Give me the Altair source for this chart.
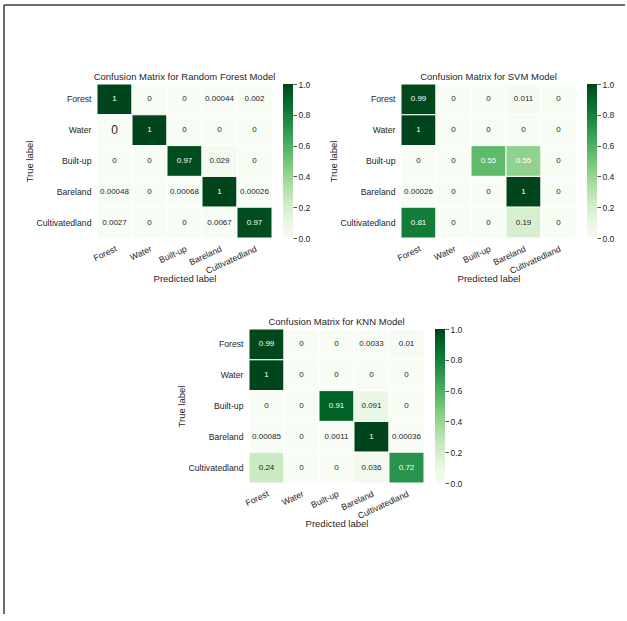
import altair as alt
import pandas as pd

classes = ["Forest", "Water", "Built-up", "Bareland", "Cultivatedland"]

rf_values = [
    [1.0, 0, 0, 0.00044, 0.002],
    [0, 1.0, 0, 0, 0],
    [0, 0, 0.97, 0.029, 0],
    [0.00048, 0, 0.00068, 1.0, 0.00026],
    [0.0027, 0, 0, 0.0067, 0.97],
]
rf_labels = [
    ["1", "0", "0", "0.00044", "0.002"],
    ["0", "1", "0", "0", "0"],
    ["0", "0", "0.97", "0.029", "0"],
    ["0.00048", "0", "0.00068", "1", "0.00026"],
    ["0.0027", "0", "0", "0.0067", "0.97"],
]
svm_values = [
    [0.99, 0, 0, 0.011, 0],
    [1.0, 0, 0, 0, 0],
    [0, 0, 0.55, 0.42, 0],
    [0.00026, 0, 0, 1.0, 0],
    [0.81, 0, 0, 0.19, 0],
]
svm_labels = [
    ["0.99", "0", "0", "0.011", "0"],
    ["1", "0", "0", "0", "0"],
    ["0", "0", "0.55", "0.55", "0"],
    ["0.00026", "0", "0", "1", "0"],
    ["0.81", "0", "0", "0.19", "0"],
]
knn_values = [
    [0.99, 0, 0, 0.0033, 0.01],
    [1.0, 0, 0, 0, 0],
    [0, 0, 0.91, 0.091, 0],
    [0.00085, 0, 0.0011, 1.0, 0.00036],
    [0.24, 0, 0, 0.036, 0.72],
]
knn_labels = [
    ["0.99", "0", "0", "0.0033", "0.01"],
    ["1", "0", "0", "0", "0"],
    ["0", "0", "0.91", "0.091", "0"],
    ["0.00085", "0", "0.0011", "1", "0.00036"],
    ["0.24", "0", "0", "0.036", "0.72"],
]
# annotation drawn larger in the Random Forest matrix (true, predicted)
rf_big_annotations = [("Water", "Forest")]

cbar_ticks = [0.0, 0.2, 0.4, 0.6, 0.8, 1.0]
greens = ["#f7fcf5", "#e5f5e0", "#c7e9c0", "#a1d99b", "#74c476",
          "#41ab5d", "#238b45", "#006d2c", "#00441b"]
green_pos = [i / 8 for i in range(9)]

FONT = "Liberation Sans"
TXT = "#262626"
HW, HH = 175, 154
SLOT = 152       # horizontal step between the three panels
KNN_DROP = 245   # vertical offset of the lower matrix


def make_df(values, labels, big=()):
    rows = []
    for i, t in enumerate(classes):
        for j, p in enumerate(classes):
            rows.append({
                "true": t, "pred": p, "value": values[i][j],
                "label": labels[i][j],
                "big": 1 if (t, p) in big else 0,
            })
    return pd.DataFrame(rows)


def panel(values, labels, title, big=(), yoff=0, frame=False):
    df = make_df(values, labels, big)
    base = alt.Chart(df)
    xenc = alt.X("pred:N", sort=classes,
                 scale=alt.Scale(range=[0, HW]),
                 axis=alt.Axis(title="Predicted label", labelAngle=-25,
                               labelAlign="right", labelBaseline="top",
                               ticks=False, domain=False, labelPadding=6,
                               labelFontSize=8.7, labelColor=TXT,
                               titleFontSize=9.5, titleFontWeight="normal",
                               titleColor=TXT, titleX=HW / 2, titleY=40,
                               titleAlign="center", titleBaseline="middle"))
    yenc = alt.Y("true:N", sort=classes,
                 scale=alt.Scale(range=[yoff, yoff + HH]),
                 axis=alt.Axis(title="True label", ticks=False, domain=False,
                               labelPadding=6, labelFontSize=8.7,
                               labelColor=TXT, titleFontSize=9.5,
                               titleFontWeight="normal", titleColor=TXT,
                               titleX=-68, titleY=yoff + HH / 2,
                               titleBaseline="middle"))
    rect = base.mark_rect(stroke="white", strokeWidth=1).encode(
        x=xenc, y=yenc,
        fill=alt.Fill("value:Q",
                      scale=alt.Scale(domain=green_pos, range=greens,
                                      interpolate="rgb"),
                      legend=None),
    )
    text = base.mark_text(font=FONT, baseline="middle", align="center").encode(
        x=xenc, y=yenc,
        text="label:N",
        color=alt.condition(alt.datum.value > 0.4, alt.value("white"),
                            alt.value(TXT)),
        size=alt.condition(alt.datum.big > 0, alt.value(12), alt.value(8)),
    )
    ttl = alt.Chart(pd.DataFrame({"t": [title]})).mark_text(
        font=FONT, fontSize=9.5, color=TXT, baseline="bottom", align="center"
    ).encode(x=alt.value(HW / 2), y=alt.value(yoff - 2), text="t:N")

    cdf = pd.DataFrame({"lo": [cbar_ticks[0]], "hi": [cbar_ticks[-1]]})
    grad = {"gradient": "linear", "x1": 0, "y1": 1, "x2": 0, "y2": 0,
            "stops": [{"offset": o, "color": c} for o, c in zip(green_pos, greens)]}
    cbar = alt.Chart(cdf).mark_rect(fill=grad).encode(
        x=alt.value(HW + 11), x2=alt.value(HW + 21),
        y=alt.Y("lo:Q", scale=alt.Scale(domain=[0, 1], nice=False, zero=False,
                                        range=[yoff + HH, yoff]),
                axis=alt.Axis(orient="right", offset=HW + 21 - SLOT,
                              values=cbar_ticks,
                              format=".1f", tickSize=3.5, tickWidth=0.8,
                              tickColor=TXT, labelFontSize=8.5,
                              labelColor=TXT, labelPadding=1.5, domain=False,
                              grid=False, title=None, labelFlush=False,
                              labelOverlap=False)),
        y2="hi:Q",
    )
    layers = [alt.layer(rect, text, ttl), cbar]
    if frame:
        fdf = pd.DataFrame({"k": [0]})
        top = alt.Chart(fdf).mark_rule(color="#3a3a3a", strokeWidth=1.5).encode(
            x=alt.value(-93), x2=alt.value(528), y=alt.value(-79))
        left = alt.Chart(fdf).mark_rule(color="#3a3a3a", strokeWidth=1.5).encode(
            x=alt.value(-93), y=alt.value(-79), y2=alt.value(530))
        layers += [top, left]
    return alt.layer(*layers).resolve_scale(y="independent").resolve_axis(
        y="independent").properties(width=SLOT, height=yoff + HH)


rf = panel(rf_values, rf_labels, "Confusion Matrix for Random Forest Model",
           rf_big_annotations, frame=True)
knn = panel(knn_values, knn_labels, "Confusion Matrix for KNN Model",
            yoff=KNN_DROP)
svm = panel(svm_values, svm_labels, "Confusion Matrix for SVM Model")

chart = alt.hconcat(rf, knn, svm, spacing=0, bounds="flush").properties(
    padding={"left": 3, "top": 4, "right": 0, "bottom": 0}
).configure(font=FONT).configure_view(stroke=None)

chart.save("out.html", embed_options={"renderer": "svg", "actions": False})
